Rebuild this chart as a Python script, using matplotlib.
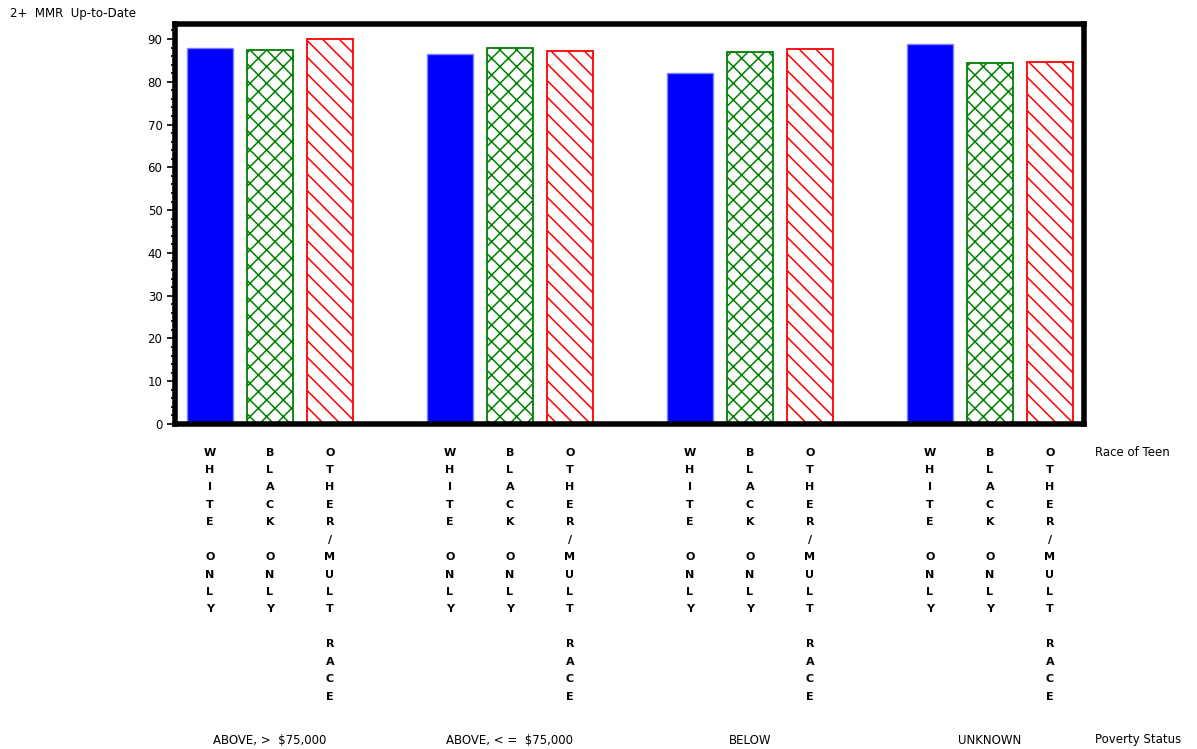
import matplotlib
matplotlib.use("Agg")
import matplotlib.pyplot as plt
from matplotlib.ticker import MultipleLocator

plt.rcParams['font.family'] = 'DejaVu Sans'
plt.rcParams['hatch.linewidth'] = 1.1

grupos = ["ABOVE, >  $75,000", "ABOVE, < =  $75,000", "BELOW", "UNKNOWN"]
razas = ["WHITE ONLY", "BLACK ONLY", "OTHER/MULT RACE"]
blanco = [87.9, 86.6, 82.1, 88.8]
negro = [87.5, 87.9, 86.9, 84.4]
otro = [90.0, 87.2, 87.6, 84.7]

colores = ["#0000ff", "#008000", "#ff0000"]
bordes = ["#8080ff", "#008000", "#ff0000"]
tramas = [None, "xx", "\\\\"]

fig = plt.figure(figsize=(11.97, 7.49), dpi=100)
ax = fig.add_axes([175/1197, (749-424)/749, (1084-175)/1197, (424-24)/749])

series = [blanco, negro, otro]
for j, vals in enumerate(series):
    xs = [4*i + j for i in range(len(grupos))]
    if tramas[j] is None:
        ax.bar(xs, vals, width=0.767, color=colores[j], edgecolor=bordes[j], linewidth=1)
    else:
        ax.bar(xs, vals, width=0.767, facecolor="white", edgecolor=colores[j],
               hatch=tramas[j], linewidth=1.3)

# etiquetas verticales letra por letra
for i in range(len(grupos)):
    for j, r in enumerate(razas):
        partes = r.split("/")
        if len(partes) > 1:
            letras = list(partes[0]) + ["/"] + list(partes[1])
        else:
            letras = list(r)
        ax.text(4*i + j, -5.5, "\n".join(letras), ha="center", va="top",
                fontsize=8, fontweight="bold", linespacing=1.93,
                transform=ax.transData, clip_on=False)
    ax.text(4*i + 1, -74, grupos[i], ha="center", va="center", fontsize=8.5,
            clip_on=False)

ax.set_xlim(-0.583, 909/60 - 0.583)
ax.set_ylim(0, 93.5)
ax.set_xticks([])
ax.yaxis.set_major_locator(MultipleLocator(10))
ax.yaxis.set_minor_locator(MultipleLocator(2))
ax.tick_params(axis="y", which="major", length=6, width=1.2, labelsize=8.5, pad=3)
ax.tick_params(axis="y", which="minor", length=3, width=1.2)
for s in ax.spines.values():
    s.set_linewidth(4)
    s.set_color("black")

fig.text(10/1197, 1 - 13/749, "2+  MMR  Up-to-Date", fontsize=8.5, va="center", ha="left")
fig.text(1095/1197, 1 - 452/749, "Race of Teen", fontsize=8.5, va="center", ha="left")
fig.text(1095/1197, 1 - 740/749, "Poverty Status", fontsize=8.5, va="center", ha="left")

fig.savefig("out.png", dpi=100)
